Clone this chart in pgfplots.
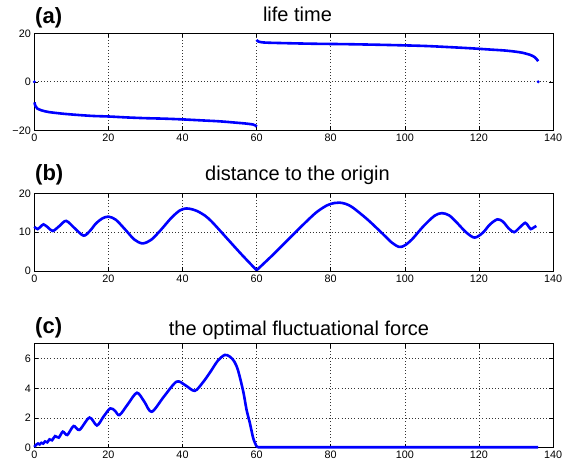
\documentclass[border=0pt]{standalone}
\usepackage{fontspec}
\setmainfont{Liberation Sans}
\usepackage{pgfplots}
\pgfplotsset{compat=1.18}
\definecolor{mblue}{RGB}{0,0,255}
\pgfplotsset{
  mstyle/.style={
    scale only axis, width=518.7bp, xmin=0, xmax=140, xtick={0,20,...,140},
    grid=major, major grid style={dash pattern=on 0.6bp off 2.6bp, line width=0.6bp, black!80},
    tick align=inside, major tick length=4bp, tick style={black, line width=0.5pt},
    axis line style={black, line width=0.7pt},
    /pgf/number format/assume math mode=true,
    ticklabel style={font=\fontsize{10.8bp}{12bp}\selectfont},
    clip=false, anchor=north west,
  }
}
\begin{document}
\begin{tikzpicture}[x=1bp,y=1bp]
\useasboundingbox (0,0) rectangle (563,-470);
% (a)
\begin{axis}[mstyle, at={(34.3bp,-33.3bp)}, height=97bp, ymin=-20, ymax=20,
  ytick={-20,0,20}, yticklabels={−20,0,20}]
\addplot[mblue, line width=2.6bp, smooth] coordinates {
(0.05,-8.5) (0.3,-10) (0.8,-11) (2,-11.8) (4,-12.5) (8,-13.2) (12,-13.7) (16,-14.1)
(20,-14.3) (25,-14.7) (30,-15.0) (35,-15.2) (40,-15.5) (45,-15.9) (50,-16.3)
(54,-16.8) (57,-17.2) (59,-17.6) (59.7,-18.0) (60,-18.5)};
\addplot[mblue, line width=2.6bp, smooth] coordinates {
(60,17.3) (60.5,16.6) (62,16.2) (66,16.0) (75,15.7) (85,15.5) (95,15.2) (105,14.8)
(112,14.3) (118,13.8) (123,13.3) (127,12.9) (130,12.4) (132,11.9) (134,11.0)
(135,10.2) (135.6,9.3) (136,8.5)};
\addplot[mblue, only marks, mark=*, mark size=1.3bp] coordinates {(0,0) (136,0)};
\end{axis}
% (b)
\begin{axis}[mstyle, at={(34.3bp,-193.3bp)}, height=77.7bp, ymin=0, ymax=20,
  ytick={0,10,20}]
\addplot[mblue, line width=2.6bp, smooth, tension=0.5] coordinates {
(0,11.4) (0.45,11.0) (0.9,10.8) (1.7,11.4) (2.5,12.0) (3.7,11.2) (5.0,10.3)
(6.8,11.6) (8.6,12.9) (10.9,11.0) (13.3,9.1) (15,10.3) (16.6,12.2) (18.3,13.5)
(20,14.0) (22,13.2) (24.6,10.6) (27,8.1) (29.2,7.1) (31.5,8.0) (34,10.4) (37,13.7)
(39.3,15.6) (41,16.1) (42.5,15.9) (44,15.4) (46,14.3) (48,12.6) (52,8.4) (56,4.2)
(60,0.2)};
\addplot[mblue, line width=2.6bp, smooth, tension=0.5] coordinates {
(60,0.2) (64,3.8) (68,7.6) (72,11.4) (76,15.0) (79,16.9) (81,17.5) (82.3,17.6)
(84,17.3) (86,16.3) (90,13.2) (94,9.6) (96.5,7.3) (98.5,6.2) (100,6.6) (102,8.2)
(105,11.5) (108,14.2) (110,14.9) (112,14.3) (114,12.5) (116.5,10.0) (118.8,8.6)
(121,9.8) (123,12.0) (125,13.3) (126.5,12.7) (128,11.0) (129.5,10.0) (131,11.2)
(132.5,12.4) (133.3,11.6) (134,10.8) (134.8,11.2) (135.5,11.6)};
\end{axis}
% (c)
\begin{axis}[mstyle, at={(34.3bp,-343.8bp)}, height=103.9bp, ymin=0, ymax=7,
  ytick={0,2,4,6}]
\addplot[mblue, line width=2.6bp, smooth, tension=0.5] coordinates {
(0,0.05) (0.5,0.2) (1.0,0.28) (1.45,0.22) (1.9,0.33) (2.4,0.28) (2.9,0.42)
(3.5,0.36) (4.1,0.56) (4.8,0.5) (5.6,0.78) (6.6,0.68) (7.7,1.08) (8.9,0.86)
(10.6,1.46) (12.2,1.2) (14.9,2.03) (16.9,1.5) (18.7,2.1) (20.5,2.65) (21.8,2.48)
(23.0,2.2) (25.3,2.95) (27.7,3.7) (29.7,3.1) (31.7,2.42) (35.0,3.45) (38.4,4.45)
(40.8,4.2) (43.3,3.83) (45.5,4.4) (47.5,5.1) (49.5,5.85) (51.4,6.25) (52.8,6.13)
(54,5.8) (55,5.2) (56.4,3.78) (57.3,2.54) (58.2,1.64) (59.1,0.63) (60,0.08)};
\addplot[mblue, line width=2.6bp] coordinates {(60,0.08) (60.5,0.03) (136,0.03)};
\end{axis}
% titles and panel labels
\node[anchor=base, font=\fontsize{20bp}{24bp}\selectfont, inner sep=0] at (297.5,-21.7) {life time};
\node[anchor=base, font=\fontsize{20bp}{24bp}\selectfont, inner sep=0] at (297.5,-180.7) {distance to the origin};
\node[anchor=base, font=\fontsize{20bp}{24bp}\selectfont, inner sep=0] at (299,-335) {the optimal fluctuational force};
\node[anchor=base west, font=\bfseries\fontsize{22bp}{26bp}\selectfont, inner sep=0] at (35,-23.5) {(a)};
\node[anchor=base west, font=\bfseries\fontsize{22bp}{26bp}\selectfont, inner sep=0] at (35,-180.4) {(b)};
\node[anchor=base west, font=\bfseries\fontsize{22bp}{26bp}\selectfont, inner sep=0] at (35,-333) {(c)};
\end{tikzpicture}
\end{document}
